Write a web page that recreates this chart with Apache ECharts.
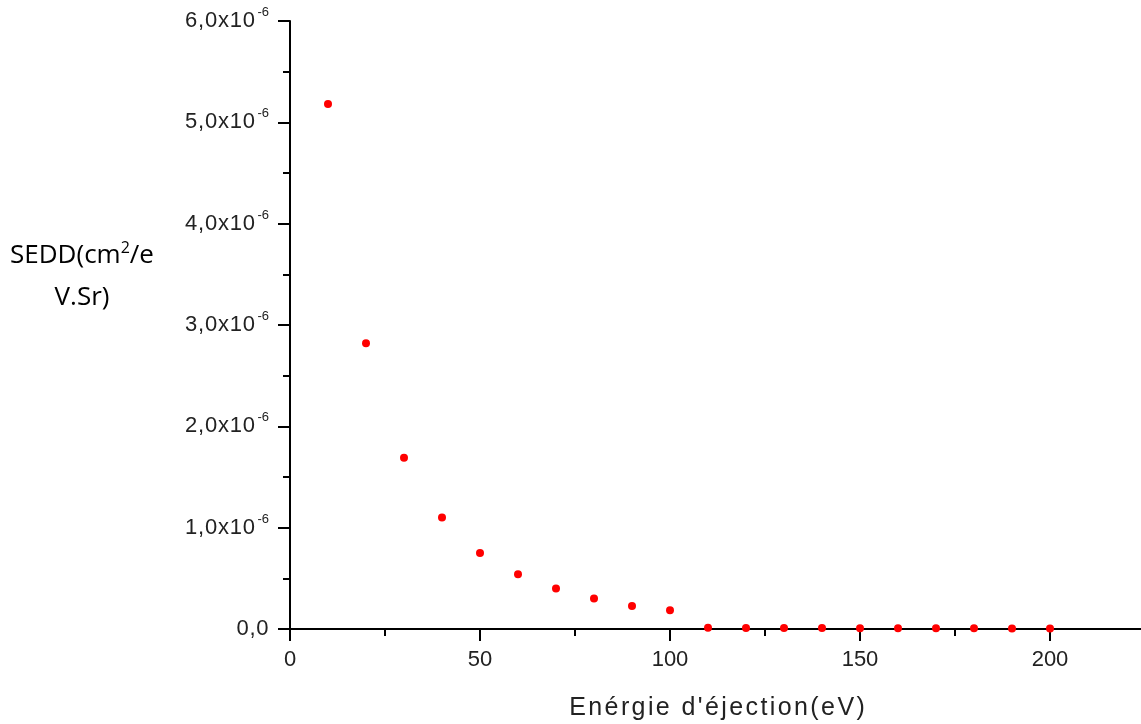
<!DOCTYPE html>
<html>
<head>
<meta charset="utf-8">
<script src="https://cdn.jsdelivr.net/npm/echarts@6/dist/echarts.min.js"></script>
<style>
  html, body { margin: 0; padding: 0; background: #fff; }
  #chart { width: 1141px; height: 724px; }
</style>
</head>
<body>
<div id="chart"></div>
<script>
// energie d'ejection (eV)
const energies = [10, 20, 30, 40, 50, 60, 70, 80, 90, 100, 110, 120, 130, 140, 150, 160, 170, 180, 190, 200];
// SEDD in units of 1e-6 cm2/eV.Sr
const sedd = [5.18, 2.82, 1.69, 1.10, 0.75, 0.54, 0.40, 0.30, 0.227, 0.185, 0.012, 0.011, 0.01, 0.009, 0.008, 0.008, 0.007, 0.007, 0.006, 0.006];
const yScale = 1e-6;

const points = energies.map((e, i) => [e, sedd[i] * yScale]);

// the original plot has widely spaced letters, fake it with rich tokens
function spaced(str, cls) {
    return str.split('').map(c => '{' + cls + '|' + c + '}').join('');
}

const chart = echarts.init(document.getElementById('chart'));

const option = {
    animation: false,
    grid: {
        left: 290,
        top: 21,
        width: 950,
        bottom: 95,
        outerBoundsMode: 'none'
    },
    xAxis: {
        type: 'value',
        min: 0,
        max: 250,
        interval: 50,
        name: spaced("Enérgie d'éjection(eV)", 't'),
        nameLocation: 'middle',
        nameGap: 67,
        nameTextStyle: {
            padding: [0, 96, 0, 0],
            rich: {
                t: { fontFamily: 'Liberation Sans', fontSize: 25, color: '#222', padding: [0, 1.2, 0, 1.2] }
            }
        },
        axisLine: { lineStyle: { color: '#000', width: 2 } },
        axisTick: { inside: false, length: 12, lineStyle: { color: '#000', width: 2 } },
        minorTick: { show: true, splitNumber: 2, length: 7, lineStyle: { color: '#000', width: 2 } },
        axisLabel: {
            margin: 20,
            showMaxLabel: false,
            fontFamily: 'Liberation Sans',
            fontSize: 22,
            color: '#222'
        },
        splitLine: { show: false }
    },
    yAxis: {
        type: 'value',
        min: 0,
        max: 6 * yScale,
        interval: 1 * yScale,
        axisLine: { show: true, lineStyle: { color: '#000', width: 2 } },
        axisTick: { show: true, inside: false, length: 12, lineStyle: { color: '#000', width: 2 } },
        minorTick: { show: true, splitNumber: 2, length: 7, lineStyle: { color: '#000', width: 2 } },
        axisLabel: {
            margin: 21,
            formatter: function (v) {
                const n = Math.round(v / yScale * 10) / 10;
                if (n === 0) return spaced('0,0', 'd');
                return spaced(n.toFixed(1).replace('.', ',') + 'x10', 'd') + '{sup|-6}';
            },
            rich: {
                d: { fontFamily: 'Liberation Sans', fontSize: 22, color: '#222', padding: [0, 0.4, 0, 0.4] },
                sup: {
                    fontFamily: 'Liberation Sans',
                    fontSize: 13,
                    color: '#222',
                    padding: [0, 0, 17, 2]
                }
            }
        },
        splitLine: { show: false }
    },
    graphic: [
        {
            type: 'text',
            x: 82,
            y: 235,
            style: {
                text: 'SEDD(cm{sup|2}/e\nV.Sr)',
                align: 'center',
                fontFamily: 'Open Sans',
                fontSize: 26,
                lineHeight: 42,
                fill: '#000',
                rich: {
                    sup: { fontFamily: 'Open Sans', fontSize: 16, fill: '#000', padding: [0, 0, 16, 0] }
                }
            }
        }
    ],
    series: [
        {
            type: 'scatter',
            data: points,
            symbol: 'circle',
            symbolSize: 8,
            itemStyle: { color: '#ff0000', opacity: 1 }
        }
    ]
};

chart.setOption(option);
window.addEventListener('resize', () => chart.resize());
</script>
</body>
</html>
